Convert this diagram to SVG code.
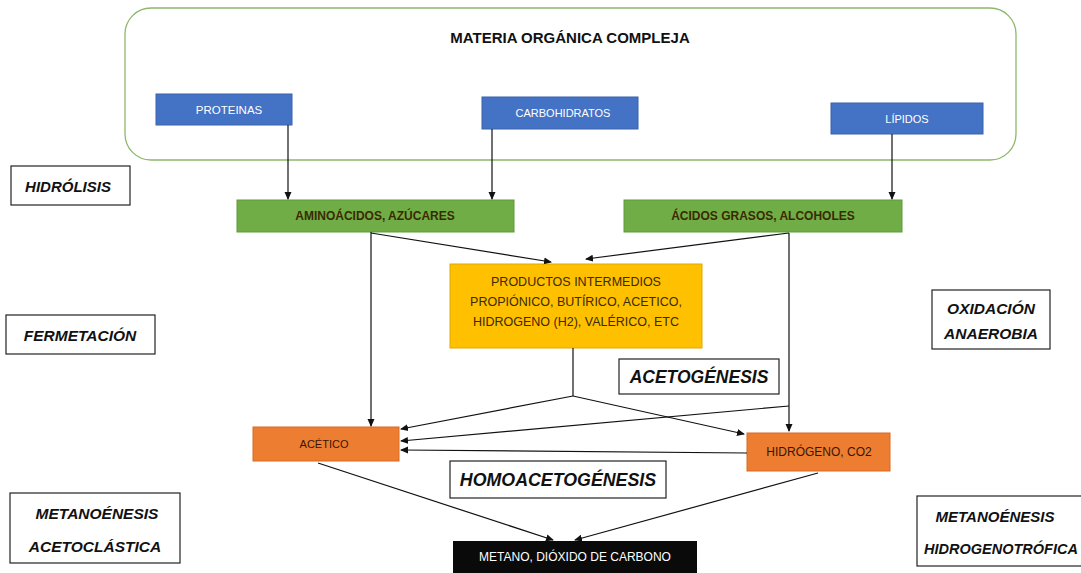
<svg xmlns="http://www.w3.org/2000/svg" width="1081" height="573" viewBox="0 0 1081 573">
<defs>
<marker id="ah" markerWidth="8" markerHeight="8" refX="7" refY="4" orient="auto" markerUnits="userSpaceOnUse">
<path d="M0,0.5 L8,4 L0,7.5 Z" fill="#111"/>
</marker>
<style>
.lbl{font-family:"Liberation Sans",Arial,sans-serif;text-anchor:middle;dominant-baseline:central}
.blue{fill:#4472C4;stroke:#3A63AD;stroke-width:1}
.green{fill:#70AD47;stroke:#5E9A3A;stroke-width:1}
.yel{fill:#FFC000;stroke:#E0A800;stroke-width:1}
.org{fill:#ED7D31;stroke:#D86A22;stroke-width:1}
.stage{fill:#fff;stroke:#222;stroke-width:1.2}
.stxt{font-family:"Liberation Sans",Arial,sans-serif;font-style:italic;font-weight:bold;fill:#111;text-anchor:middle;dominant-baseline:central}
.wt{fill:#fff;font-size:11px}
.dt{fill:#3a2a00;font-size:12px;font-weight:bold}
.yt{fill:#3a2a00;font-size:12.5px}
.conn line{stroke:#111;stroke-width:1.2;fill:none}
</style>
</defs>
<rect width="1081" height="573" fill="#fff"/>

<g id="materia">
<rect x="125" y="8" width="891" height="152" rx="26" fill="#fff" stroke="#8DB86A" stroke-width="1.3"/>
<text class="lbl" x="570" y="37" font-size="15" font-weight="bold" fill="#111">MATERIA ORGÁNICA COMPLEJA</text>
</g>
<g id="proteinas"><rect class="blue" x="156" y="94" width="136" height="31"/><text class="lbl wt" x="229" y="110" style="font-size:11.5px">PROTEINAS</text></g>
<g id="carbohidratos"><rect class="blue" x="482" y="97" width="156" height="32"/><text class="lbl wt" x="563" y="113">CARBOHIDRATOS</text></g>
<g id="lipidos"><rect class="blue" x="831" y="103" width="152" height="31"/><text class="lbl wt" x="907" y="119">LÍPIDOS</text></g>

<g id="aminoacidos"><rect class="green" x="237" y="200" width="277" height="32"/><text class="lbl dt" x="375" y="216">AMINOÁCIDOS, AZÚCARES</text></g>
<g id="acidos"><rect class="green" x="624" y="200" width="278" height="32"/><text class="lbl dt" x="763" y="216">ÁCIDOS GRASOS, ALCOHOLES</text></g>

<g id="productos"><rect class="yel" x="450" y="264" width="252" height="84"/>
<text class="lbl yt" x="576" y="282">PRODUCTOS INTERMEDIOS</text>
<text class="lbl yt" x="576" y="302">PROPIÓNICO, BUTÍRICO, ACETICO,</text>
<text class="lbl yt" x="576" y="322">HIDROGENO (H2), VALÉRICO, ETC</text>
</g>

<g id="acetico"><rect class="org" x="253" y="427" width="146" height="34"/><text class="lbl" x="324" y="444" font-size="11" fill="#3a1500">ACÉTICO</text></g>
<g id="hidrogeno"><rect class="org" x="747" y="433" width="143" height="38"/><text class="lbl" x="819" y="452" font-size="12" fill="#3a1500">HIDRÓGENO, CO2</text></g>
<g id="metano"><rect x="453" y="541" width="244" height="34" fill="#0a0a0a"/><text class="lbl wt" x="575" y="557" style="font-size:12px">METANO, DIÓXIDO DE CARBONO</text></g>

<g id="hidrolisis"><rect class="stage" x="11" y="166" width="119" height="39"/><text class="stxt" x="68" y="186" font-size="15">HIDRÓLISIS</text></g>
<g id="fermetacion"><rect class="stage" x="6" y="315" width="149" height="39"/><text class="stxt" x="80" y="335" font-size="15.5">FERMETACIÓN</text></g>
<g id="oxidacion"><rect class="stage" x="932" y="290" width="118" height="59"/><text class="stxt" x="991" y="308" font-size="15.5">OXIDACIÓN</text><text class="stxt" x="991" y="333" font-size="15.5">ANAEROBIA</text></g>
<g id="acetogenesis"><rect class="stage" x="619" y="359" width="160" height="35"/><text class="stxt" x="699" y="377" font-size="17.5">ACETOGÉNESIS</text></g>
<g id="homoacetogenesis"><rect class="stage" x="450" y="461" width="216" height="37"/><text class="stxt" x="558" y="480" font-size="17.8">HOMOACETOGÉNESIS</text></g>
<g id="acetoclastica"><rect class="stage" x="10" y="493" width="170" height="70"/><text class="stxt" x="97" y="513" font-size="15.5">METANOÉNESIS</text><text class="stxt" x="95" y="546" font-size="15.5">ACETOCLÁSTICA</text></g>
<g id="hidrogenotrofica"><rect class="stage" x="917" y="496" width="170" height="70"/><text class="stxt" x="995" y="516" font-size="15">METANOÉNESIS</text><text class="stxt" x="1001" y="549" font-size="14.5">HIDROGENOTRÓFICA</text></g>

<g id="connectors" class="conn">
<line x1="288" y1="125" x2="288" y2="199" marker-end="url(#ah)"/>
<line x1="492" y1="129" x2="492" y2="199" marker-end="url(#ah)"/>
<line x1="892" y1="134" x2="892" y2="199" marker-end="url(#ah)"/>
<line x1="371" y1="232" x2="371" y2="426" marker-end="url(#ah)"/>
<line x1="371" y1="233" x2="551" y2="262" marker-end="url(#ah)"/>
<line x1="789" y1="233" x2="586" y2="259" marker-end="url(#ah)"/>
<line x1="789" y1="233" x2="789" y2="431" marker-end="url(#ah)"/>
<line x1="573" y1="348" x2="573" y2="396"/>
<line x1="573" y1="396" x2="401" y2="429" marker-end="url(#ah)"/>
<line x1="573" y1="396" x2="744" y2="434" marker-end="url(#ah)"/>
<line x1="789" y1="406" x2="401" y2="441" marker-end="url(#ah)"/>
<line x1="747" y1="453" x2="401" y2="450" marker-end="url(#ah)"/>
<line x1="318" y1="463" x2="553" y2="540" marker-end="url(#ah)"/>
<line x1="818" y1="473" x2="575" y2="540" marker-end="url(#ah)"/>
</g>
</svg>
